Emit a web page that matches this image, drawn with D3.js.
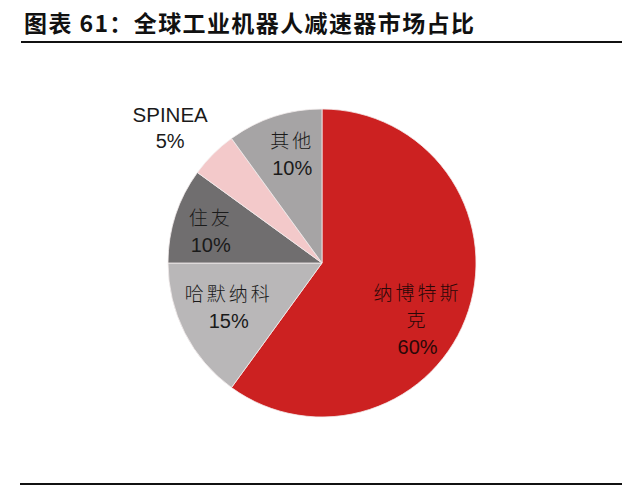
<!DOCTYPE html>
<html>
<head>
<meta charset="utf-8">
<script src="https://cdn.jsdelivr.net/npm/d3@7"></script>
<style>
  body { margin: 0; background: #fff; }
  svg { display: block; }
</style>
</head>
<body>
<div id="chart"></div>
<script>
(function(d3) {

  'use strict';

  // data
  var companies = ['纳博特斯克', '哈默纳科', '住友', 'SPINEA', '其他'];
  var shares = [60, 15, 10, 5, 10];
  var nameLines = [['纳博特斯', '克'], ['哈默纳科'], ['住友'], ['SPINEA'], ['其他']];
  var colors = ['#cc2121', '#b9b7b8', '#706e6f', '#f3c9ca', '#a6a4a5'];

  var width = 640, height = 485;
  var cx = 322, cy = 263, radius = 154;

  // label placement: radius factor and small nudge per slice
  var labelLayout = [
    { k: 0.70, dx: -7, dy: 24 },
    { k: 0.68, dx: 0, dy: -3 },
    { k: 0.76, dx: 0, dy: 5 },
    { k: 1.33, dx: -7, dy: 10 },
    { k: 0.73, dx: 5, dy: -1 }
  ];

  var svg = d3.select('#chart')
    .append('svg')
    .attr('width', width)
    .attr('height', height);

  // title
  svg.append('text')
    .attr('x', 24)
    .attr('y', 32)
    .style('font-family', '"Noto Sans CJK SC", sans-serif')
    .style('font-weight', 'bold')
    .style('font-size', '23px')
    .style('letter-spacing', '1.4px')
    .style('fill', '#111')
    .text('图表 61：全球工业机器人减速器市场占比');

  svg.append('line')
    .attr('x1', 21).attr('x2', 622)
    .attr('y1', 42).attr('y2', 42)
    .style('stroke', '#111')
    .style('stroke-width', 2);

  svg.append('line')
    .attr('x1', 20).attr('x2', 622)
    .attr('y1', 484).attr('y2', 484)
    .style('stroke', '#111')
    .style('stroke-width', 2);

  var pie = d3.pie().sort(null).value(function(d) { return d; });
  var arcs = pie(shares);

  var arc = d3.arc().innerRadius(0).outerRadius(radius);

  var g = svg.append('g')
    .attr('transform', 'translate(' + cx + ',' + cy + ')');

  g.selectAll('path')
    .data(arcs)
    .enter()
    .append('path')
    .attr('d', arc)
    .style('fill', function(d, i) { return colors[i]; })
    .style('stroke', '#f4eeee')
    .style('stroke-width', 0.8);

  var labels = g.selectAll('g.label')
    .data(arcs)
    .enter()
    .append('g')
    .attr('class', 'label')
    .attr('transform', function(d, i) {
      var lay = labelLayout[i];
      var r = radius * lay.k;
      var c = d3.arc().innerRadius(r).outerRadius(r).centroid(d);
      return 'translate(' + (c[0] + lay.dx) + ',' + (c[1] + lay.dy) + ')';
    });

  labels.each(function(d, i) {
    var el = d3.select(this);
    var lines = nameLines[i];
    var lineH = 26.5;
    var n = lines.length + 1;
    var top = -((n - 1) * lineH) / 2;
    var isLatin = /^[A-Z]+$/.test(lines[0]);
    lines.forEach(function(t, j) {
      el.append('text')
        .attr('y', top + j * lineH)
        .attr('dy', '0.35em')
        .attr('text-anchor', 'middle')
        .style('font-family', isLatin ? 'Arial, "Liberation Sans", sans-serif' : '"Noto Sans CJK SC", sans-serif')
        .style('font-weight', isLatin ? 'normal' : '300')
        .style('font-size', isLatin ? '20.5px' : '19px')
        .style('letter-spacing', isLatin ? '0px' : '3px')
        .style('fill', i === 0 ? '#2a0808' : '#1a1a1a')
        .text(t);
    });
    el.append('text')
      .attr('y', top + lines.length * lineH)
      .attr('dy', '0.35em')
      .attr('text-anchor', 'middle')
      .style('font-family', 'Arial, "Liberation Sans", sans-serif')
      .style('font-size', '20px')
      .style('fill', i === 0 ? '#2a0808' : '#1a1a1a')
      .text(shares[i] + '%');
  });

})(d3);
</script>
</body>
</html>
